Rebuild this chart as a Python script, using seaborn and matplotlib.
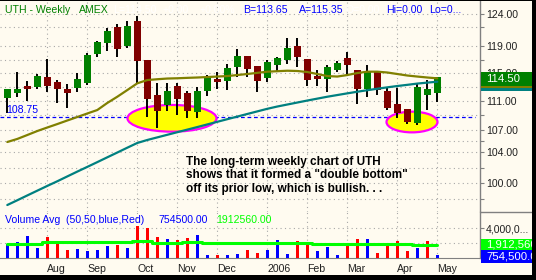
import numpy as np
import pandas as pd
import matplotlib
matplotlib.use("Agg")
import matplotlib.pyplot as plt
import seaborn as sns
from matplotlib.patches import Ellipse, Rectangle
from matplotlib.lines import Line2D
from matplotlib.ticker import FixedLocator, FixedFormatter, NullFormatter

# ---------------- data (weekly UTH, Jul 2005 - May 2006) ----------------
opens = [111.48, 112.20, 113.16, 113.05, 114.50, 113.78, 112.72, 112.91, 113.55, 117.86,
         119.47, 122.00, 119.06, 122.90, 116.96, 111.87, 110.42, 113.16, 112.20, 109.53,
         112.44, 114.17, 113.92, 115.96, 117.55, 116.07, 114.36, 116.17, 116.96, 119.06,
         117.11, 114.60, 114.17, 115.48, 117.31, 115.48, 112.68, 115.34, 112.48, 110.60,
         109.86, 108.00, 111.87, 112.20]
highs = [112.75, 115.24, 113.92, 114.90, 117.11, 114.02, 113.45, 115.09, 117.96, 119.87,
         121.77, 122.43, 122.90, 123.69, 116.96, 113.64, 113.64, 113.64, 112.44, 112.97,
         114.75, 115.24, 116.37, 118.60, 117.55, 116.07, 116.96, 117.40, 120.32, 120.32,
         117.11, 115.48, 116.22, 116.82, 118.20, 115.48, 116.22, 115.34, 112.97, 112.83,
         109.86, 113.55, 114.02, 114.50]
lows = [109.30, 111.63, 111.06, 112.68, 112.34, 110.70, 110.00, 112.34, 113.30, 117.45,
        118.35, 117.36, 118.71, 113.64, 108.83, 107.31, 109.62, 109.07, 108.69, 108.61,
        111.77, 112.72, 112.58, 114.50, 114.50, 112.34, 113.78, 115.19, 116.32, 115.96,
        113.20, 113.20, 112.25, 115.24, 114.80, 110.60, 111.63, 111.87, 109.76, 108.61,
        107.82, 107.64, 109.76, 110.82]
closes = [112.68, 112.74, 112.77, 114.60, 113.20, 112.72, 112.20, 114.17, 117.70, 119.71,
          121.35, 118.56, 122.12, 116.82, 111.35, 109.62, 112.48, 111.35, 109.62, 112.48,
          114.42, 113.78, 115.78, 117.55, 115.63, 113.92, 116.66, 117.21, 118.80, 117.36,
          114.10, 114.17, 115.92, 116.56, 116.26, 112.68, 115.24, 112.58, 110.08, 109.30,
          108.14, 113.05, 112.72, 114.50]
ma_short = [105.39, 105.80, 106.33, 106.87, 107.35, 107.82, 108.31, 108.79, 109.28, 109.76,
            110.75, 111.63, 112.58, 113.55, 114.02, 114.14, 114.24, 114.28, 114.34, 114.39,
            114.46, 114.53, 114.60, 114.75, 114.90, 115.07, 115.24, 115.31, 115.38, 115.34,
            115.19, 114.90, 114.60, 114.53, 114.75, 115.04, 115.24, 115.24, 115.12, 114.90,
            114.68, 114.53, 114.39, 114.27]
ma_long = [97.28, 97.87, 98.47, 99.07, 99.67, 100.26, 100.88, 101.50, 102.11, 102.73,
           103.36, 103.99, 104.63, 105.26, 105.66, 106.01, 106.36, 106.71, 107.06, 107.41,
           107.77, 108.13, 108.49, 108.85, 109.21, 109.57, 109.93, 110.25, 110.53, 110.81,
           111.09, 111.36, 111.63, 111.87, 112.11, 112.34, 112.56, 112.77, 112.97, 113.16,
           113.33, 113.51, 113.65, 113.78]
volume = [1.83e6, 2.07e6, 2.94e6, 1.32e6, 2.80e6, 1.97e6, 1.01e6, 1.15e6, 0.91e6, 1.01e6,
          1.56e6, 1.70e6, 1.32e6, 4.32e6, 4.04e6, 2.80e6, 2.52e6, 2.39e6, 2.66e6, 3.08e6,
          0.36e6, 0.36e6, 0.32e6, 0.46e6, 1.01e6, 0.59e6, 1.01e6, 2.39e6, 0.46e6, 2.25e6,
          1.83e6, 0.87e6, 1.42e6, 0.32e6, 1.97e6, 2.52e6, 2.52e6, 0.59e6, 1.97e6, 2.25e6,
          0.87e6, 1.28e6, 2.25e6, 0.40e6]
vol_avg = [1.90e6, 1.90e6, 1.90e6, 1.90e6, 2.12e6, 2.12e6, 2.12e6, 2.12e6, 2.12e6, 2.12e6,
           2.12e6, 2.12e6, 2.12e6, 2.30e6, 2.30e6, 2.02e6, 2.02e6, 2.02e6, 2.15e6, 2.15e6,
           2.06e6, 2.06e6, 2.06e6, 2.06e6, 2.06e6, 2.06e6, 2.06e6, 2.06e6, 2.06e6, 2.06e6,
           2.06e6, 1.85e6, 1.85e6, 1.85e6, 1.85e6, 1.85e6, 1.85e6, 1.85e6, 1.85e6, 1.85e6,
           1.85e6, 1.70e6, 1.70e6, 1.70e6]
month_pos = [4, 8, 13, 17, 21, 26, 30, 34, 39, 43]
month_labels = ["Aug", "Sep", "Oct", "Nov", "Dec", "2006", "Feb", "Mar", "Apr", "May"]
price_major = [100, 104, 107, 111, 115, 119, 124]
price_minor = [98, 102, 105.5, 109, 113, 117, 122]
support_level = 108.75
last_close = 114.50
bid, ask = 113.65, 115.35
last_volume, avg_volume = 754500, 1912560

# ---------------- style ----------------
sns.set_style("white")
plt.rcParams["font.family"] = ["Liberation Sans", "DejaVu Sans"]
BG = "#fffbf0"
GRID = "#a8a8a8"
AXC = "#808080"
W, H = 536, 280

fig = plt.figure(figsize=(W / 100, H / 100), dpi=100)
fig.patch.set_facecolor(BG)

ax = fig.add_axes([0, 68 / H, 480 / W, 212 / H])
axv = fig.add_axes([0, 22.5 / H, 480 / W, 45.5 / H])
for a in (ax, axv):
    a.set_facecolor(BG)
    for s in a.spines.values():
        s.set_visible(False)
    a.spines["right"].set_visible(True)
    a.spines["right"].set_color(AXC)
    a.spines["right"].set_linewidth(1.0)
    a.set_xlim(-0.73, 47.27)
axv.spines["bottom"].set_visible(True)
axv.spines["bottom"].set_color(AXC)

idx = np.arange(len(closes))
df = pd.DataFrame({"week": idx, "open": opens, "high": highs, "low": lows,
                   "close": closes, "ma_short": ma_short, "ma_long": ma_long,
                   "volume": volume, "vol_avg": vol_avg})

# price scale
ax.set_yscale("log")
ax.set_ylim(96.42, 126.23)
ax.yaxis.set_major_locator(FixedLocator(price_major))
ax.yaxis.set_major_formatter(FixedFormatter([f"{v:.2f}" for v in price_major]))
ax.yaxis.set_minor_locator(FixedLocator(price_minor))
ax.yaxis.set_minor_formatter(NullFormatter())
ax.yaxis.tick_right()
ax.tick_params(axis="y", which="both", direction="out", length=3, width=0.8,
               color=AXC, pad=1.5, labelsize=7.6, labelcolor="#202020")
ax.set_xticks(month_pos)
ax.set_xticklabels([])
ax.tick_params(axis="x", length=0)
ax.grid(True, which="both", axis="both", color=GRID, linestyle=(0, (1, 3)), linewidth=0.8)
ax.set_axisbelow(True)

# support line
ax.axhline(support_level, xmin=0, xmax=475 / 480, color="#0000ff",
           linestyle=(0, (3, 2.2)), linewidth=0.9, zorder=1)

# highlight ellipses (double bottom)
from matplotlib.transforms import ScaledTranslation
for cx, cy, ew, eh in [(16.47, 108.61, 0.89, 0.267), (40.47, 108.10, 0.51, 0.207)]:
    tr = fig.dpi_scale_trans + ScaledTranslation(cx, cy, ax.transData)
    ax.add_patch(Ellipse((0, 0), ew, eh, transform=tr, facecolor="#ffff00",
                         edgecolor="#ff00ff", linewidth=1.6, zorder=1.5))

# candles
up = df["close"] >= df["open"]
body_col = np.where(up, "#008000", "#800000")
ax.vlines(df["week"], df["low"], df["high"], color="black", linewidth=1.4, zorder=3)
body_lo = np.minimum(df["open"], df["close"])
body_h = np.abs(df["close"] - df["open"])
ax.bar(df["week"], body_h, bottom=body_lo, width=0.7, color=body_col,
       edgecolor="none", zorder=4)

# moving averages
sns.lineplot(data=df, x="week", y="ma_short", ax=ax, color="#808000", linewidth=1.6, zorder=5)
sns.lineplot(data=df, x="week", y="ma_long", ax=ax, color="#008080", linewidth=1.6, zorder=5)
ax.set_xlabel("")
ax.set_ylabel("")
ax.set_xlim(-0.73, 47.27)

# volume panel
prev = np.r_[df["close"].iloc[0] - 1, df["close"].values[:-1]]
vcol = np.where(df["close"].values >= prev, "#0000ff", "#ff0000")
axv.bar(df["week"], df["volume"], width=0.3, color=vcol, edgecolor="none", zorder=3)
sns.lineplot(data=df, x="week", y="vol_avg", ax=axv, color="#00ff00", linewidth=2.2,
             drawstyle="steps-mid", zorder=4)
axv.set_ylim(0, 6.25e6)
axv.set_xlim(-0.73, 47.27)
axv.set_xlabel("")
axv.set_ylabel("")
axv.yaxis.tick_right()
axv.yaxis.set_major_locator(FixedLocator([4e6]))
axv.yaxis.set_major_formatter(FixedFormatter(["4,000,0..."]))
axv.yaxis.set_minor_locator(FixedLocator([2e6]))
axv.tick_params(axis="y", which="both", direction="out", length=3, width=0.8,
                color=AXC, pad=1.5, labelsize=7.6, labelcolor="#202020")
axv.set_xticks(month_pos)
axv.set_xticklabels(month_labels, ha="left")
axv.tick_params(axis="x", direction="out", length=4.5, width=0.8, color=AXC,
                pad=0.5, labelsize=7.6, labelcolor="#202020")
axv.grid(True, which="both", axis="both", color=GRID, linestyle=(0, (1, 3)), linewidth=0.8)
axv.set_axisbelow(True)

# ---------------- texts ----------------
def ptext(x, y, s, **kw):
    kw.setdefault("fontsize", 7.6)
    return fig.text(x / W, 1 - y / H, s, va="center", ha="left", **kw)

ptext(5, 10, "UTH - Weekly", color="#008000")
ptext(79, 10, "AMEX", color="#008000")
ptext(113, 10, f"L={last_close:.2f}", color="#ffffff")
ptext(163, 10, "+0.00", color="#ffffff")
ptext(200, 10, "+0.00%", color="#ffffff")
ptext(243, 10, f"B={bid:.2f}", color="#0000ff")
ptext(299, 10, f"A={ask:.2f}", color="#0000ff")
ptext(346, 10, "O=0.00", color="#ffffff")
ptext(386, 10, "Hi=0.00", color="#0000ff")
ptext(429, 10, "Lo=0...", color="#0000ff")

sy = ax.transData.transform((0, support_level))[1]
ptext(6, H - sy - 7, f"{support_level:.2f}", color="#0000ff")

ptext(5, 220, "Volume Avg  (50,50,blue,Red)", color="#0000ff")
ptext(158, 220, f"{last_volume:.2f}", color="#0000ff")
ptext(216, 220, f"{avg_volume:.2f}", color="#00ff00")

fig.text(186.5 / W, 1 - 161.5 / H,
         "The long-term weekly chart of UTH\nshows that it formed a \"double bottom\"\n"
         "off its prior low, which is bullish. . .",
         ha="left", va="top", fontsize=8.5, fontweight="bold", color="black",
         linespacing=1.18, transform=fig.transFigure)
# adjust: va top at first line top
fig.texts[-1].set_y(1 - 155.5 / H)

# right-hand value boxes
def value_box(a, value, fc, label, tc="white"):
    ypx = a.transData.transform((0, value))[1] - 2.2
    fig.patches.append(Rectangle((481, ypx - 7.2), 60, 14.4, transform=None,
                                 facecolor=fc, edgecolor="none", zorder=5))
    if label:
        fig.text(486 / W, ypx / H, label, color=tc, fontsize=8.2, va="center",
                 ha="left", zorder=6)

value_box(ax, ma_long[-1], "#008080", "")
value_box(ax, ma_short[-1], "#808000", "")
value_box(ax, last_close, "#008000", f"{last_close:.2f}")

gy = axv.transData.transform((0, vol_avg[-1]))[1]
fig.patches.append(Rectangle((481, H - 250), 60, 10.7, transform=None,
                             facecolor="#00ff00", edgecolor="none", zorder=5))
fig.text(486 / W, (H - 244.6) / H, f"{avg_volume:,}", color="white", fontsize=8.2,
         va="center", ha="left", zorder=6)
fig.patches.append(Rectangle((481, H - 262.7), 60, 12.7, transform=None,
                             facecolor="#0000ff", edgecolor="none", zorder=5))
fig.text(486 / W, (H - 256.3) / H, f"{last_volume:,}.0", color="white", fontsize=8.2,
         va="center", ha="left", zorder=6)

# panel separator on the axis strip
fig.lines.append(Line2D([480, W], [H - 212, H - 212], transform=None, color=AXC,
                        linewidth=1.0, zorder=5))

# black frame (bottom / right / top)
fig.patches.append(Rectangle((0, 0), W, H - 275, transform=None, facecolor="black",
                             edgecolor="none", zorder=20))
fig.patches.append(Rectangle((532, 0), W - 532, H, transform=None, facecolor="black",
                             edgecolor="none", zorder=20))
fig.patches.append(Rectangle((0, H - 1), W, 1, transform=None, facecolor="black",
                             edgecolor="none", zorder=20))

fig.savefig("out.png", dpi=100, facecolor=BG)
